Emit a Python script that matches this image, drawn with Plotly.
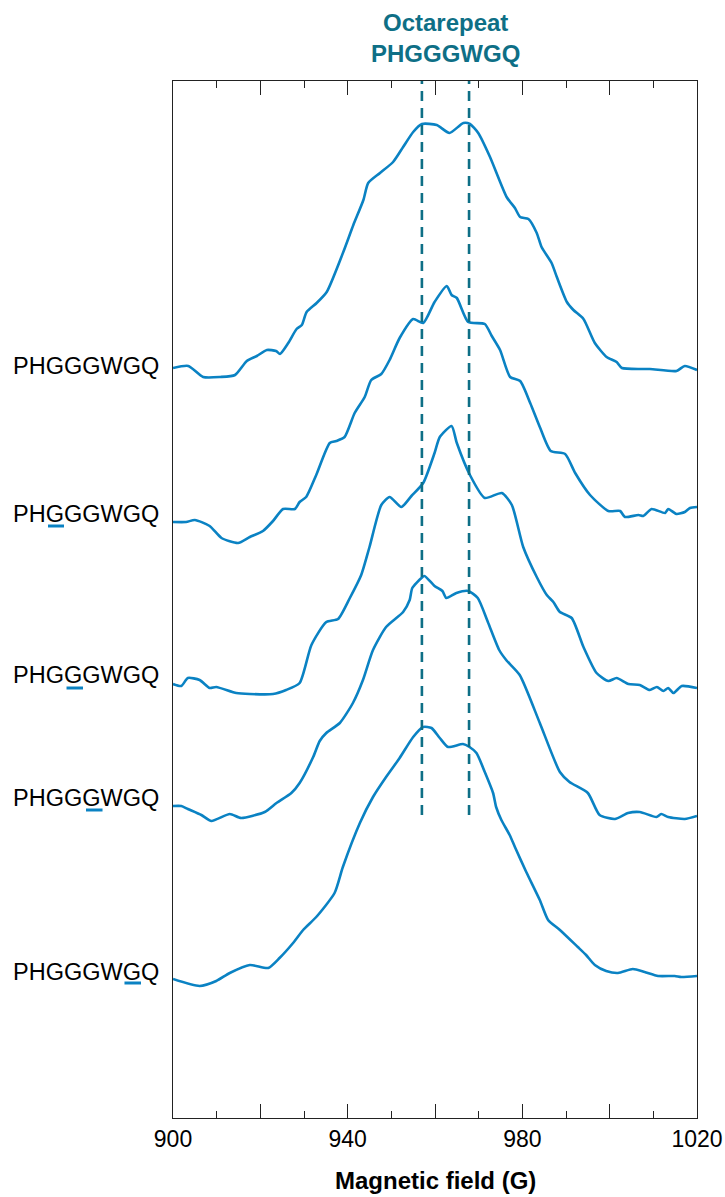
import plotly.graph_objects as go

# ---------------- data (field in G, signal in a.u.) ----------------
labels = ["PHGGGWGQ", "PHGGGWGQ", "PHGGGWGQ", "PHGGGWGQ", "PHGGGWGQ"]
underlined_letter = [None, 3, 4, 5, 7]   # 1-based position of the mutated G
offsets = [750, 596, 434, 312, 139]
label_lift = [2.5, 8, 9, 8, 7]

s1_field = [900.0, 903.5, 906.9, 910.8, 914.2, 916.9, 919.2, 921.5, 923.6, 924.5,
            926.4, 928.3, 929.5, 930.6, 932.9, 935.2, 939.0, 941.3, 943.6, 944.7,
            947.4, 950.4, 952.7, 955.0, 957.0, 960.4, 963.3, 966.5, 968.0, 969.9,
            972.6, 976.4, 978.3, 979.5, 981.4, 983.3, 984.4, 986.7, 987.9, 990.2,
            991.7, 994.0, 996.6, 999.3, 1001.6, 1002.8, 1009.2, 1015.3, 1017.2, 1020.0]
s1_sig = [0, 2, -9, -9, -7, 7, 12, 18, 17, 14,
          25, 39, 43, 56, 65, 76, 116, 143, 168, 185,
          195, 206, 221, 236, 244, 243, 235, 245, 244, 235,
          211, 171, 160, 151, 149, 135, 121, 105, 91, 66,
          58, 49, 25, 11, 6, 0, -1, -3, 2, -2]

s2_field = [900.0, 903.0, 905.0, 908.4, 911.1, 914.9, 917.6, 920.6, 922.9, 925.2,
            927.9, 929.0, 930.5, 932.8, 935.9, 937.4, 939.3, 941.6, 943.9, 945.4,
            947.7, 949.6, 951.9, 955.0, 957.3, 959.9, 962.7, 963.8, 965.0, 967.6,
            971.4, 973.0, 974.9, 977.2, 979.5, 981.8, 984.0, 986.5, 989.8, 992.1,
            995.5, 999.7, 1002.4, 1003.5, 1006.6, 1007.7, 1009.6, 1012.7, 1013.4, 1015.3,
            1017.2, 1018.4, 1020.0]
s2_sig = [0, 0, 2, -4, -16, -21, -15, -9, 1, 13,
          13, 20, 25, 47, 79, 81, 85, 109, 125, 142,
          148, 162, 184, 203, 199, 220, 236, 227, 224, 200,
          198, 186, 172, 145, 141, 119, 95, 71, 68, 49,
          27, 11, 11, 5, 7, 6, 13, 9, 13, 8,
          10, 14, 15]

s3_field = [900.0, 901.9, 903.4, 906.1, 908.4, 909.9, 914.5, 917.6, 922.9, 925.9,
            929.0, 931.7, 935.1, 937.8, 940.5, 943.1, 945.0, 947.7, 949.6, 952.3,
            954.6, 957.3, 959.9, 961.1, 963.8, 965.0, 968.0, 971.4, 975.3, 977.6,
            980.2, 983.3, 985.6, 987.1, 988.6, 991.3, 994.0, 997.0, 999.7, 1001.6,
            1004.3, 1006.9, 1009.2, 1010.8, 1012.3, 1013.4, 1014.6, 1016.5, 1020.0]
s3_sig = [0, -2, 6, 4, -4, -3, -9, -10, -10, -6,
          1, 39, 62, 65, 86, 109, 137, 179, 187, 177,
          188, 201, 231, 247, 258, 241, 209, 186, 191, 179,
          137, 107, 89, 82, 72, 66, 37, 11, 3, 6,
          0, -1, -6, -3, -7, -4, -9, -2, -4]

s4_field = [900.0, 901.9, 903.4, 906.5, 908.8, 913.0, 915.6, 921.0, 923.7, 927.1,
            929.0, 932.1, 933.6, 935.1, 938.2, 941.2, 943.5, 945.8, 948.8, 952.7,
            954.2, 954.8, 956.9, 957.6, 959.9, 961.7, 962.6, 964.9, 967.6, 969.8,
            972.1, 974.7, 976.3, 979.4, 984.0, 988.6, 990.8, 995.0, 997.7, 1001.2,
            1004.2, 1006.9, 1010.7, 1011.8, 1013.4, 1017.2, 1020.0]
s4_sig = [0, 0, -3, -9, -15, -8, -12, -6, 3, 13,
          23, 49, 65, 73, 83, 103, 126, 156, 179, 194,
          206, 218, 228, 230, 220, 215, 208, 213, 215, 208,
          184, 156, 146, 131, 83, 34, 24, 13, -9, -13,
          -7, -6, -11, -8, -11, -13, -10]

s5_field = [900.0, 906.1, 909.9, 913.0, 917.6, 921.8, 924.4, 927.5, 929.8, 932.8,
            937.0, 938.9, 942.8, 945.8, 948.8, 951.9, 955.0, 957.3, 959.2, 961.1,
            963.0, 966.4, 967.9, 969.5, 971.4, 973.3, 974.0, 975.2, 977.1, 978.3,
            980.9, 984.0, 985.9, 988.6, 992.7, 994.6, 996.6, 999.2, 1001.9, 1005.3,
            1008.0, 1011.1, 1014.9, 1016.4, 1020.0]
s5_sig = [0, -7, -2, 6, 14, 11, 21, 36, 49, 62,
          86, 112, 156, 182, 202, 221, 242, 252, 251, 241,
          232, 235, 232, 226, 207, 186, 172, 159, 144, 132,
          107, 79, 59, 49, 32, 24, 14, 8, 6, 10,
          7, 3, 3, 2, 3]

marker_fields = [957.0, 967.8]     # octarepeat reference positions (G)
marker_low = 303                   # lower end of the dashed guides (a.u.)

x_tickvals = [900, 920, 940, 960, 980, 1000, 1020]
x_ticktext = ["900", "", "940", "", "980", "", "1020"]

# ---------------- styling ----------------
BLUE = "#0a82c3"
TEAL = "#0e6f86"
FONT = "Liberation Sans"

fields = [s1_field, s2_field, s3_field, s4_field, s5_field]
sigs = [s1_sig, s2_sig, s3_sig, s4_sig, s5_sig]

fig = go.Figure()
for f, s, off in zip(fields, sigs, offsets):
    fig.add_trace(go.Scatter(
        x=f, y=[v + off for v in s], mode="lines",
        line=dict(color=BLUE, width=2.6, shape="spline", smoothing=0.6),
        showlegend=False, hoverinfo="skip"))

shapes = []
for mf in marker_fields:
    shapes.append(dict(type="line", xref="x", yref="y", x0=mf, x1=mf,
                       y0=marker_low, y1=1037,
                       line=dict(color=TEAL, width=2.6, dash="10px,7px")))

# underline geometry (paper x of each letter's glyph for the left labels)
letter_x = {3: (-0.2385, -0.2080), 4: (-0.2032, -0.1718),
            5: (-0.1660, -0.1345), 7: (-0.0926, -0.0611)}

annotations = []
for lab, ul, off, lift in zip(labels, underlined_letter, offsets, label_lift):
    annotations.append(dict(text=lab, xref="paper", yref="y", x=-0.0229, y=off + lift,
                            xanchor="right", yanchor="middle", showarrow=False,
                            font=dict(family=FONT, size=23.5, color="black")))
    if ul is not None:
        x0, x1 = letter_x[ul]
        shapes.append(dict(type="line", xref="paper", yref="y", x0=x0, x1=x1,
                           y0=off - 4, y1=off - 4,
                           line=dict(color=BLUE, width=3)))

annotations.append(dict(text="<b>Octarepeat</b><br><b>PHGGGWGQ</b>", xref="x", yref="paper",
                        x=sum(marker_fields) / 2, y=1.0415, xanchor="center", yanchor="middle",
                        showarrow=False, font=dict(family=FONT, size=24, color=TEAL)))
annotations.append(dict(text="<b>Magnetic field (G)</b>", xref="paper", yref="paper",
                        x=0.5, y=-0.0598, xanchor="center", yanchor="middle",
                        showarrow=False, font=dict(family=FONT, size=24, color="black")))

fig.update_layout(
    width=725, height=1197, autosize=False,
    margin=dict(l=173, r=28, t=81, b=79, autoexpand=False),
    paper_bgcolor="white", plot_bgcolor="white",
    shapes=shapes, annotations=annotations,
    xaxis=dict(range=[900, 1020], tickvals=x_tickvals, ticktext=x_ticktext,
               automargin=False,
               ticks="inside", ticklen=14, tickwidth=1.3, tickcolor="#222",
               showline=True, linecolor="#222", linewidth=1.4, mirror="ticks",
               showgrid=False, zeroline=False,
               tickfont=dict(family=FONT, size=23, color="black"),
               minor=dict(dtick=10, tick0=900, ticks="inside", ticklen=7,
                          tickwidth=1.3, tickcolor="#222", showgrid=False)),
    yaxis=dict(range=[0, 1037], showticklabels=False, ticks="", showline=True,
               automargin=False,
               linecolor="#222", linewidth=1.4, mirror=True,
               showgrid=False, zeroline=False),
)

fig.write_html("out.html")
